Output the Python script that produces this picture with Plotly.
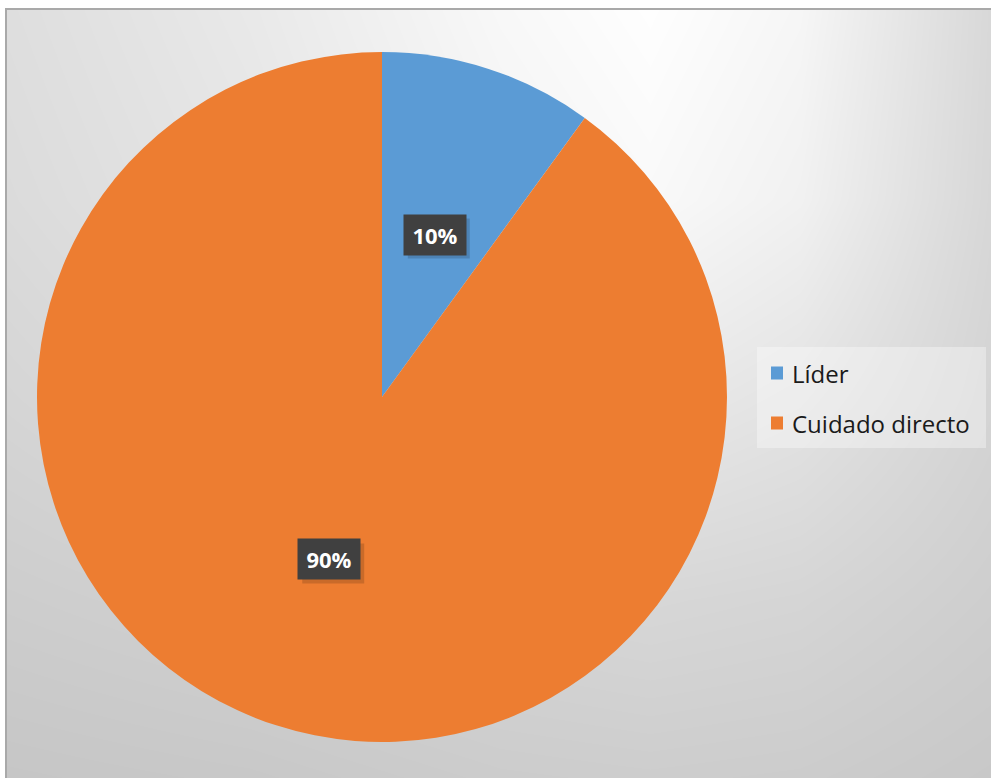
import math
import plotly.graph_objects as go

# --- data -------------------------------------------------------------
labels = ["Líder", "Cuidado directo"]
values = [10, 90]
colors = ["#5B9BD5", "#ED7D31"]

# --- page geometry (pixels) ------------------------------------------
W, H = 991, 778
CX, CY, R = 382, 397, 345          # pie centre and radius
FRAME_X, FRAME_Y = 6, 9            # top-left corner of the chart frame
LABEL_W, LABEL_H, LABEL_PAD = 48, 26, 7

# background shading of the chart frame (grey levels on a coarse grid)
bg_x = [6, 250, 500, 650, 800, 991]
bg_y = [9, 200, 400, 600, 778]
bg_z = [
    [222, 233, 248, 254, 246, 216],
    [219, 229, 243, 249, 241, 215],
    [213, 221, 229, 233, 227, 212],
    [205, 209, 213, 215, 213, 206],
    [198, 200, 204, 205, 204, 200],
]


def px(x):
    return x / W


def py(y):
    return 1 - y / H


fig = go.Figure()

fig.add_trace(go.Heatmap(
    x=bg_x, y=bg_y, z=bg_z,
    zmin=0, zmax=255, zsmooth="best",
    colorscale=[[0, "rgb(0,0,0)"], [1, "rgb(255,255,255)"]],
    showscale=False, hoverinfo="skip",
))

fig.add_trace(go.Pie(
    labels=labels, values=values,
    marker=dict(colors=colors, line=dict(width=0)),
    sort=False, direction="clockwise", rotation=0,
    textinfo="none", hoverinfo="label+percent",
    showlegend=False,
    domain=dict(x=[px(CX - R), px(CX + R)], y=[py(CY + R), py(CY - R)]),
))

shapes = []
annotations = []

# chart frame
shapes.append(dict(
    type="rect", xref="paper", yref="paper",
    x0=px(FRAME_X), x1=1.02, y0=-0.02, y1=py(FRAME_Y),
    line=dict(color="#a9a9a9", width=2), fillcolor="rgba(0,0,0,0)",
))

# percentage labels placed at mid-angle of each slice
total = sum(values)
cum = 0
half_w = LABEL_W / 2 + LABEL_PAD
half_h = LABEL_H / 2 + LABEL_PAD
for v in values:
    mid = (cum + v / 2) / total * 2 * math.pi
    cum += v
    r_lab = 0.495 * R
    lx = CX + r_lab * math.sin(mid)
    ly = CY - r_lab * math.cos(mid)
    # soft drop shadow behind the label box
    shapes.append(dict(
        type="rect", xref="paper", yref="paper",
        x0=px(lx - half_w + 4), x1=px(lx + half_w + 4),
        y0=py(ly + half_h + 4), y1=py(ly - half_h + 4),
        line=dict(width=0), fillcolor="rgba(0,0,0,0.15)",
    ))
    annotations.append(dict(
        x=px(lx), y=py(ly), xref="paper", yref="paper",
        xanchor="center", yanchor="middle", showarrow=False,
        width=LABEL_W, height=LABEL_H, borderpad=LABEL_PAD,
        text=f"<b>{round(100 * v / total)}%</b>",
        bgcolor="#404040",
        font=dict(family="Open Sans, sans-serif", color="white", size=22),
    ))

# legend
LEG_X0, LEG_X1, LEG_Y0, LEG_Y1 = 757, 986, 347, 448
shapes.append(dict(
    type="rect", xref="paper", yref="paper",
    x0=px(LEG_X0), x1=px(LEG_X1), y0=py(LEG_Y1), y1=py(LEG_Y0),
    line=dict(width=0), fillcolor="rgba(255,255,255,0.35)",
))
row_y = [373, 423]
for lab, col, yy in zip(labels, colors, row_y):
    shapes.append(dict(
        type="rect", xref="paper", yref="paper",
        x0=px(771), x1=px(783), y0=py(yy + 6.5), y1=py(yy - 6.5),
        line=dict(width=0), fillcolor=col,
    ))
    annotations.append(dict(
        x=px(790), y=py(yy), xref="paper", yref="paper",
        xanchor="left", yanchor="middle", text=lab, showarrow=False,
        font=dict(family="Open Sans, sans-serif", color="#1a1a1a", size=24),
    ))

fig.update_layout(
    width=W, height=H,
    margin=dict(l=0, r=0, t=0, b=0),
    paper_bgcolor="white", plot_bgcolor="white",
    xaxis=dict(domain=[px(FRAME_X), 1], range=[FRAME_X, W], visible=False,
               fixedrange=True),
    yaxis=dict(domain=[0, py(FRAME_Y)], range=[H, FRAME_Y], visible=False,
               fixedrange=True),
    shapes=shapes, annotations=annotations,
)

fig.write_html("out.html")
